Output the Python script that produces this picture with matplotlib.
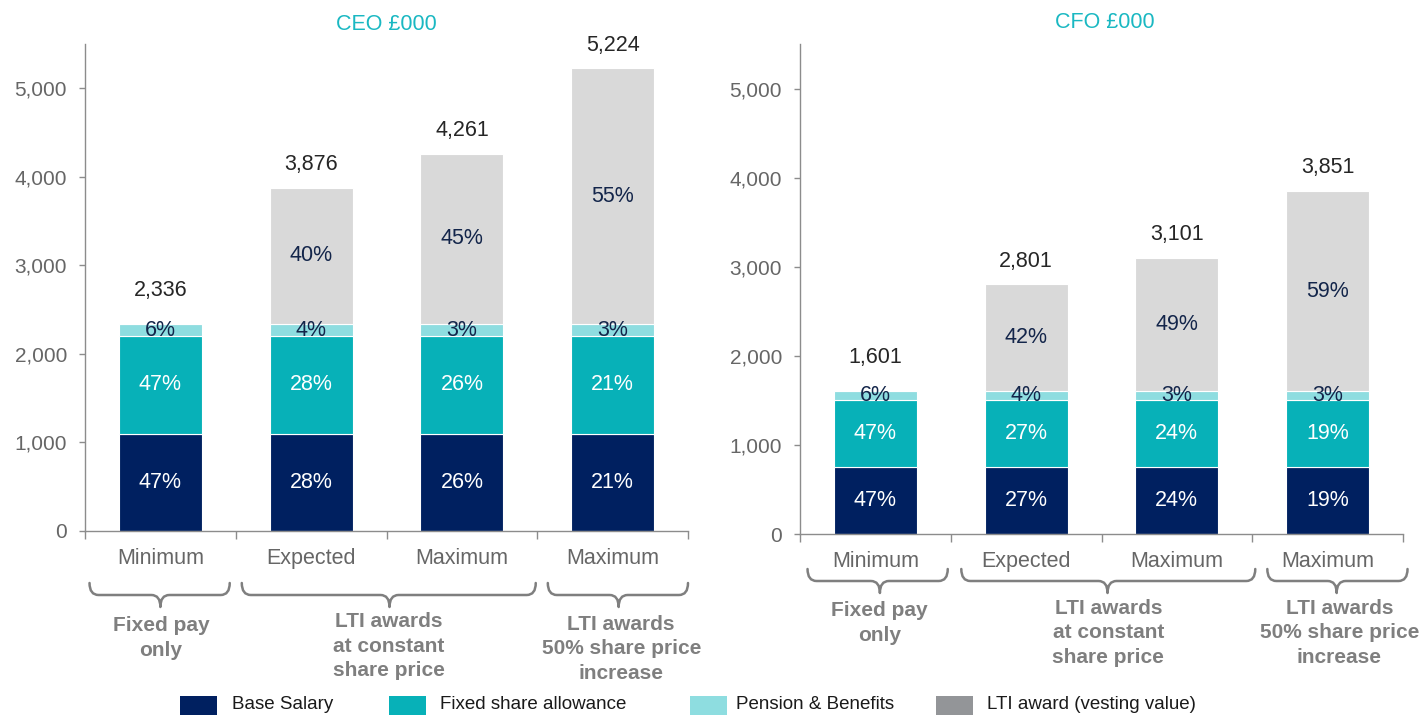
import matplotlib
matplotlib.use("Agg")
import matplotlib.pyplot as plt
from matplotlib.path import Path
from matplotlib.patches import PathPatch, Rectangle
from matplotlib.transforms import blended_transform_factory
import numpy as np

plt.rcParams['font.family'] = ['Liberation Sans', 'DejaVu Sans']

# ---------------- data ----------------
categories = ["Minimum", "Expected", "Maximum", "Maximum"]
series_names = ["Base Salary", "Fixed share allowance", "Pension & Benefits",
                "LTI award (vesting value)"]
group_labels = ["Fixed pay\nonly", "LTI awards\nat constant\nshare price",
                "LTI awards\n50% share price\nincrease"]

ceo_base = [1100, 1100, 1100, 1100]
ceo_fsa = [1100, 1100, 1100, 1100]
ceo_pension = [136, 136, 136, 136]
ceo_lti = [0, 1540, 1925, 2888]
ceo_pct_base = ["47%", "28%", "26%", "21%"]
ceo_pct_fsa = ["47%", "28%", "26%", "21%"]
ceo_pct_pension = ["6%", "4%", "3%", "3%"]
ceo_pct_lti = ["", "40%", "45%", "55%"]

cfo_base = [750, 750, 750, 750]
cfo_fsa = [750, 750, 750, 750]
cfo_pension = [101, 101, 101, 101]
cfo_lti = [0, 1200, 1500, 2250]
cfo_pct_base = ["47%", "27%", "24%", "19%"]
cfo_pct_fsa = ["47%", "27%", "24%", "19%"]
cfo_pct_pension = ["6%", "4%", "3%", "3%"]
cfo_pct_lti = ["", "42%", "49%", "59%"]

# ---------------- style ----------------
C_BASE = "#002060"
C_FSA = "#07b1b8"
C_PEN = "#8edde0"
C_LTI = "#d9d9d9"
C_LTI_LEG = "#939598"
C_DARKTXT = "#13254a"
C_AXIS = "#8c8c8c"
C_TICK = "#666666"
C_GROUP = "#7f7f7f"
C_TITLE = "#1ab8c2"
FS = 15.5

W, H = 1422, 715
fig = plt.figure(figsize=(W / 100, H / 100), dpi=100)

def fy(px):
    return 1 - px / H

ax1 = fig.add_axes([85 / W, fy(531), 603 / W, (531 - 44) / H])
ax2 = fig.add_axes([800 / W, fy(534), 603 / W, (534 - 44) / H])


def bracket(ax, x0, x1, xc, yt, ym, yb, r=0.06):
    tr = blended_transform_factory(ax.transData, fig.transFigure)
    yt, ym, yb = fy(yt), fy(ym), fy(yb)
    verts = [(x0, yt), (x0, ym), (x0 + r, ym), (xc - r, ym),
             (xc, ym), (xc, yb), (xc, ym), (xc + r, ym), (x1 - r, ym),
             (x1, ym), (x1, yt)]
    codes = [Path.MOVETO, Path.CURVE3, Path.CURVE3, Path.LINETO,
             Path.CURVE3, Path.CURVE3, Path.CURVE3, Path.CURVE3, Path.LINETO,
             Path.CURVE3, Path.CURVE3]
    ax.add_artist(PathPatch(Path(verts, codes), transform=tr, fill=False,
                            edgecolor=C_GROUP, lw=1.8, clip_on=False,
                            capstyle='round', joinstyle='round'))


def draw(ax, base, fsa, pen, lti, pb, pf, pp, pl, title, title_xy,
         total_offsets, brackets, glabels):
    x = np.arange(len(categories))
    base = np.array(base); fsa = np.array(fsa); pen = np.array(pen); lti = np.array(lti)
    w = 0.55
    kw = dict(width=w, edgecolor="white", linewidth=0.8)
    ax.bar(x, base, color=C_BASE, **kw)
    ax.bar(x, fsa, bottom=base, color=C_FSA, **kw)
    ax.bar(x, pen, bottom=base + fsa, color=C_PEN, **kw)
    ax.bar(x, lti, bottom=base + fsa + pen, color=C_LTI, **kw)
    totals = base + fsa + pen + lti

    for i in range(len(x)):
        ax.text(x[i], base[i] / 2, pb[i], ha="center", va="center",
                color="white", fontsize=FS)
        ax.text(x[i], base[i] + fsa[i] / 2, pf[i], ha="center", va="center",
                color="white", fontsize=FS)
        ax.text(x[i], base[i] + fsa[i] + pen[i] / 2, pp[i], ha="center",
                va="center", color=C_DARKTXT, fontsize=FS)
        if pl[i]:
            ax.text(x[i], base[i] + fsa[i] + pen[i] + lti[i] / 2, pl[i],
                    ha="center", va="center", color=C_DARKTXT, fontsize=FS)
        ax.annotate(f"{totals[i]:,}", (x[i], totals[i]),
                    xytext=(0, total_offsets[i]), textcoords="offset pixels",
                    ha="center", va="center", color="#262626", fontsize=FS)

    ax.set_xlim(-0.5, 3.5)
    ax.set_ylim(0, 5500)
    for s in ["top", "right"]:
        ax.spines[s].set_visible(False)
    for s in ["left", "bottom"]:
        ax.spines[s].set_color(C_AXIS)
        ax.spines[s].set_linewidth(1.0)
    yt = list(range(0, 5001, 1000))
    ax.set_yticks(yt)
    ax.set_yticklabels([f"{v:,}" for v in yt])
    ax.tick_params(axis="y", length=4, width=1, color=C_AXIS, pad=9,
                   labelsize=15, labelcolor=C_TICK)
    ax.set_xticks([-0.5, 0.5, 1.5, 2.5, 3.5])
    ax.set_xticklabels([])
    ax.tick_params(axis="x", which="major", length=6, width=1, color=C_AXIS)
    ax.set_xticks(x, minor=True)
    ax.set_xticklabels(categories, minor=True)
    ax.tick_params(axis="x", which="minor", length=0, pad=12, labelsize=FS,
                   labelcolor=C_TICK)

    fig.text(title_xy[0] / W, fy(title_xy[1]), title, ha="center", va="center",
             color=C_TITLE, fontsize=FS)

    for (x0, x1, xc, a, b, c) in brackets:
        bracket(ax, x0, x1, xc, a, b, c)
    tr = blended_transform_factory(ax.transData, fig.transFigure)
    for lab, (gx, gy) in zip(group_labels, glabels):
        ax.text(gx, fy(gy), lab, transform=tr, ha="center", va="center",
                fontsize=15, fontweight="bold", color=C_GROUP,
                linespacing=1.37, clip_on=False)


draw(ax1, ceo_base, ceo_fsa, ceo_pension, ceo_lti,
     ceo_pct_base, ceo_pct_fsa, ceo_pct_pension, ceo_pct_lti,
     "CEO £000", (386, 24), [34, 23, 23, 23],
     [(-0.47, 0.46, 0.0, 583, 595, 607),
      (0.54, 2.49, 1.52, 583, 595, 607),
      (2.57, 3.5, 3.04, 583, 595, 607)],
     [(0.004, 638), (1.517, 646), (3.057, 649)])

draw(ax2, cfo_base, cfo_fsa, cfo_pension, cfo_lti,
     cfo_pct_base, cfo_pct_fsa, cfo_pct_pension, cfo_pct_lti,
     "CFO £000", (1105, 22), [34, 23, 23, 23],
     [(-0.45, 0.48, 0.03, 569, 581, 593),
      (0.57, 2.52, 1.54, 569, 581, 593),
      (2.6, 3.53, 3.06, 569, 581, 593)],
     [(0.027, 623), (1.546, 633), (3.078, 633)])

# ---------------- legend ----------------
leg_colors = [C_BASE, C_FSA, C_PEN, C_LTI_LEG]
patch_x = [180, 389, 690, 936]
text_x = [232, 440, 736, 987]
for name, col, px, tx in zip(series_names, leg_colors, patch_x, text_x):
    fig.add_artist(Rectangle((px / W, 0), 37 / W, fy(696), transform=fig.transFigure,
                             facecolor=col, edgecolor="none"))
    fig.text(tx / W, fy(709), name, ha="left", va="baseline", fontsize=13.5,
             color="#1a1a1a")

fig.savefig("out.png", dpi=100)
